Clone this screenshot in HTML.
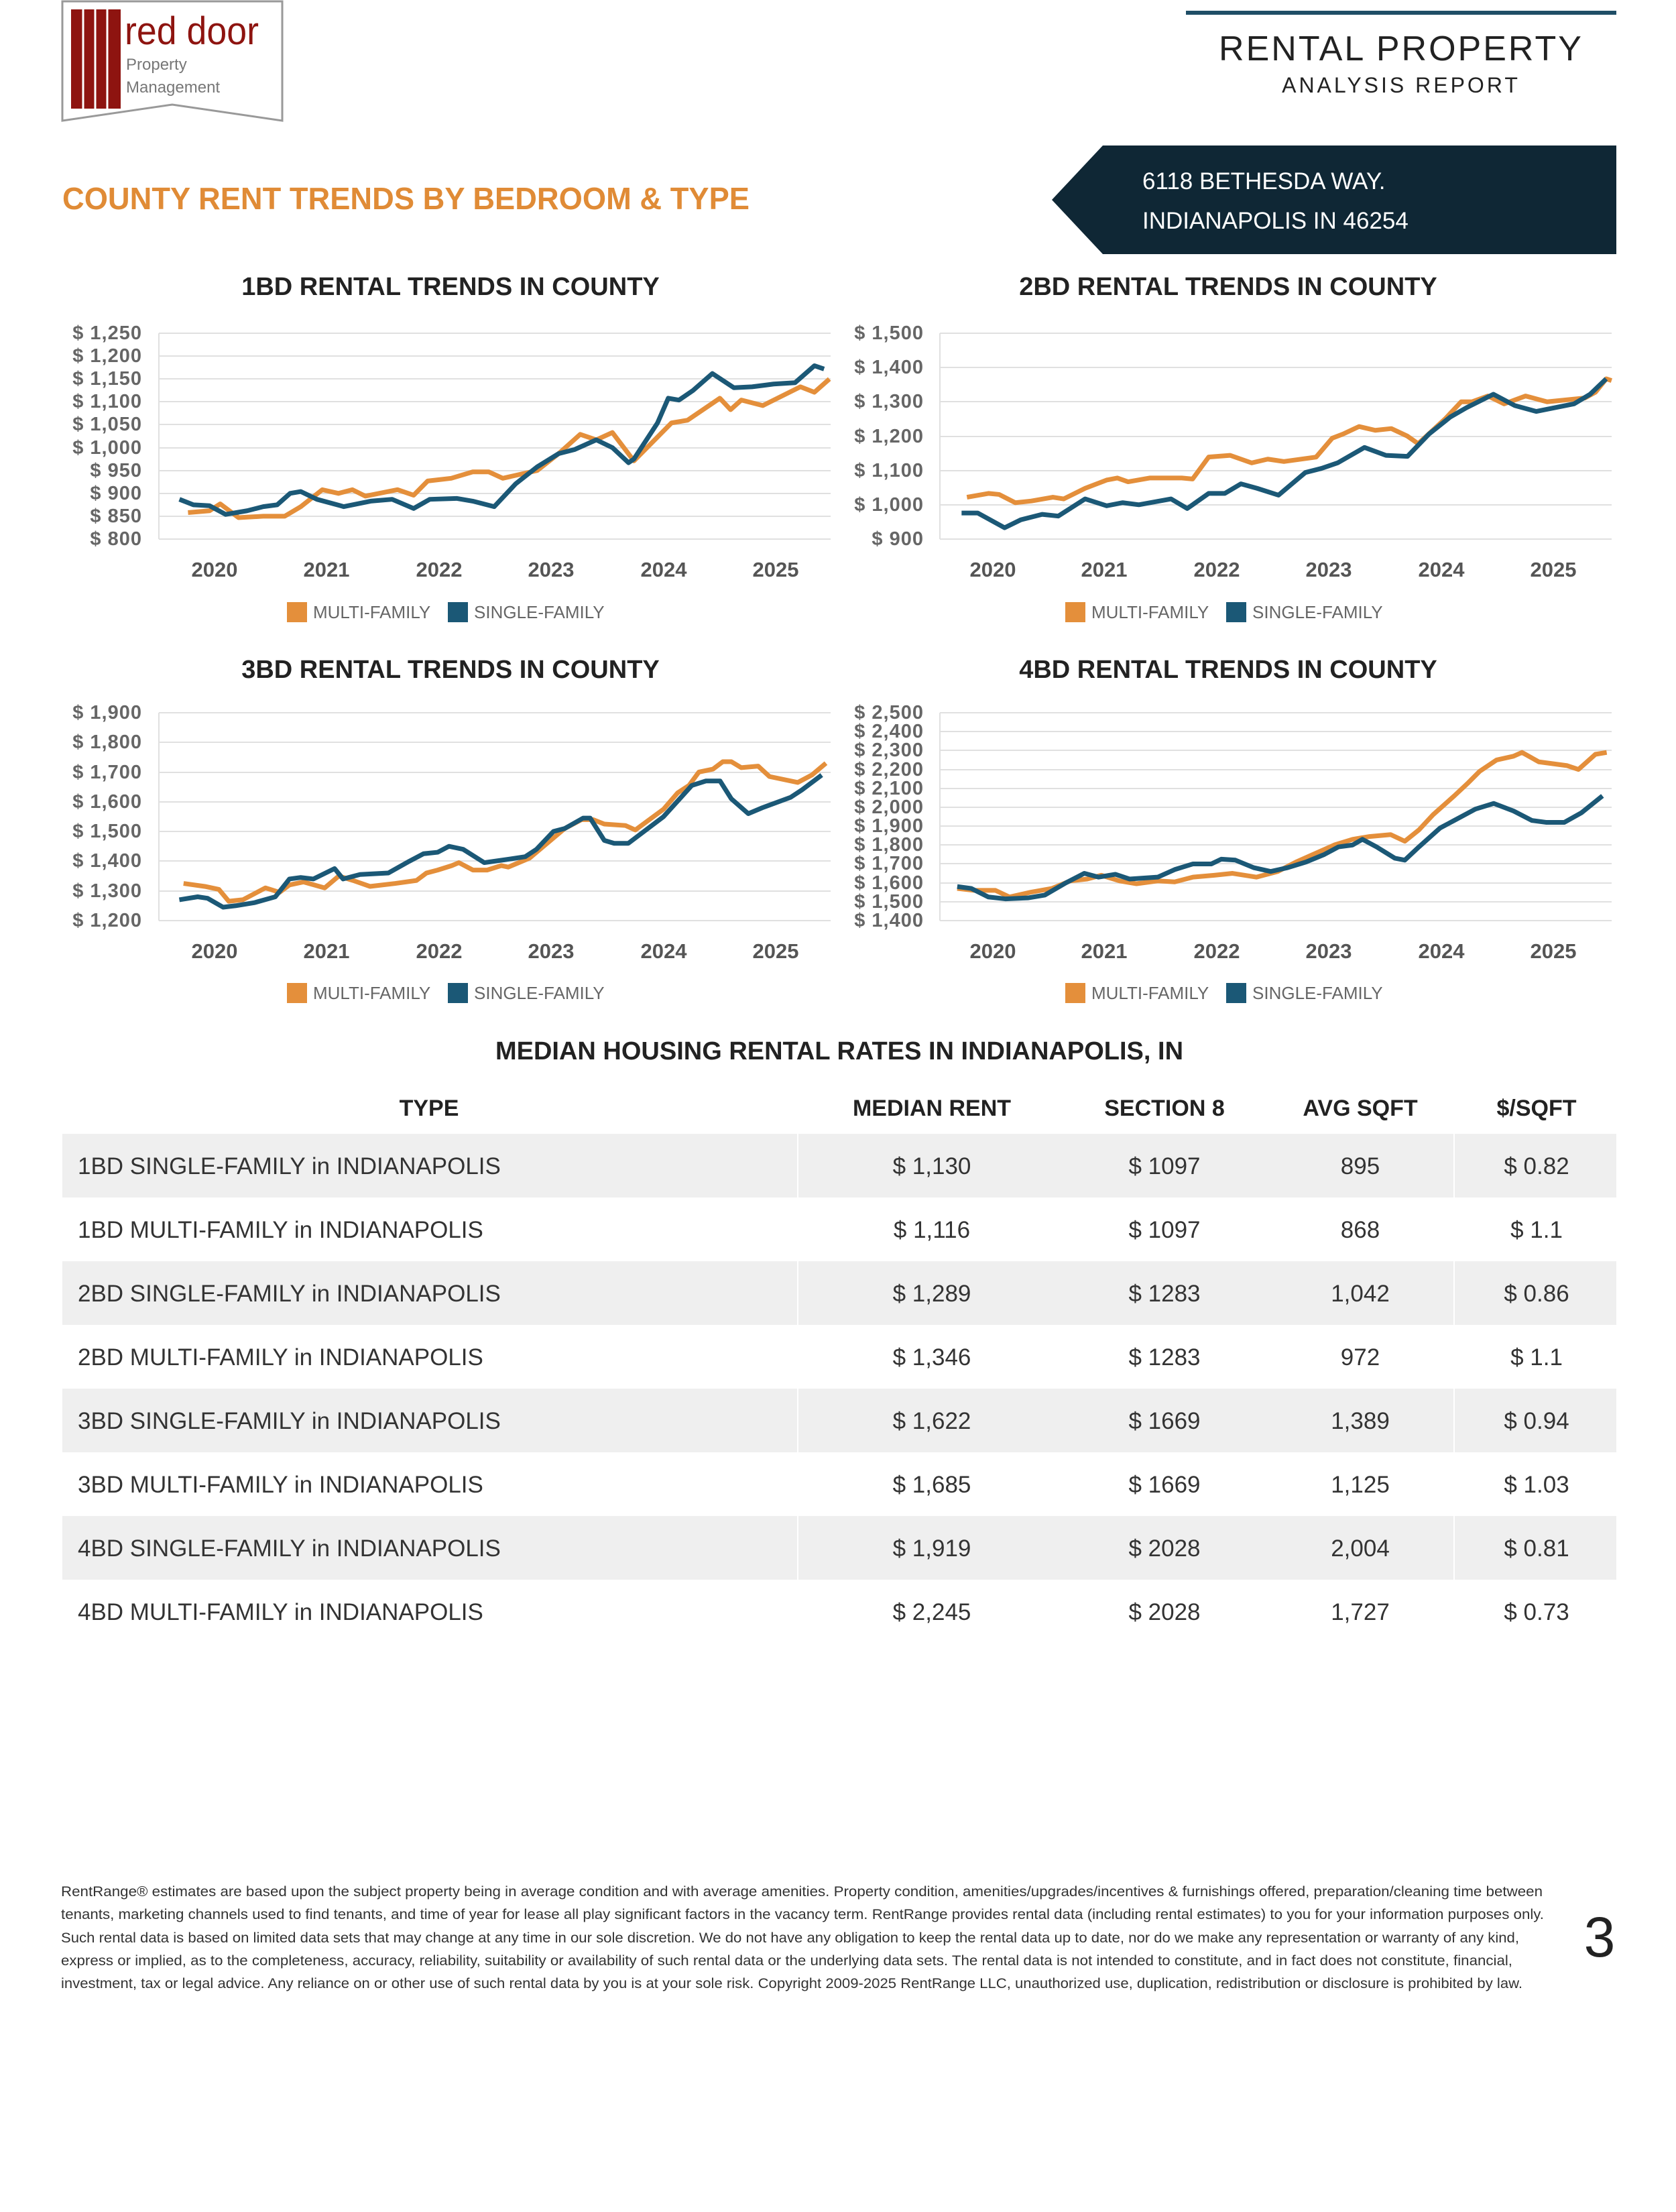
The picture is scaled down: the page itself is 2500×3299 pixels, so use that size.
<!DOCTYPE html>
<html><head><meta charset="utf-8"><style>
html,body{margin:0;padding:0;background:#fff;}
svg{display:block;}
text{font-family:"Liberation Sans",sans-serif;}
.tk{font-size:29px;font-weight:bold;fill:#666;letter-spacing:1px;}
.yr{font-size:31px;font-weight:bold;fill:#555;text-anchor:middle;}
.ct{font-size:38px;font-weight:bold;fill:#222;text-anchor:middle;}
.lg{font-size:26px;fill:#666;}
.g{stroke:#e0e0e0;stroke-width:2;}
.o{fill:none;stroke:#E48F3B;stroke-width:7;stroke-linejoin:round;vector-effect:non-scaling-stroke;}
.b{fill:none;stroke:#1B5876;stroke-width:7;stroke-linejoin:round;vector-effect:non-scaling-stroke;}
.th{font-size:34px;font-weight:bold;fill:#222;text-anchor:middle;}
.td{font-size:35px;fill:#333;}
.tc{font-size:35px;fill:#333;text-anchor:middle;}
.ft{font-size:21px;fill:#333;}
</style></head><body>
<svg width="2500" height="3299" viewBox="0 0 2500 3299" xmlns="http://www.w3.org/2000/svg">
<path d="M93,2 L421,2 L421,180 L257,156 L93,180 Z" fill="#fff" stroke="#999" stroke-width="3"/>
<rect x="106" y="14" width="74" height="148" fill="#8E1410"/>
<line x1="124" y1="14" x2="124" y2="162" stroke="#fff" stroke-width="3"/>
<line x1="142" y1="14" x2="142" y2="162" stroke="#fff" stroke-width="3"/>
<line x1="160" y1="14" x2="160" y2="162" stroke="#fff" stroke-width="3"/>
<text x="186" y="66" font-size="58" fill="#8E1410" textLength="200" lengthAdjust="spacingAndGlyphs">red door</text>
<text x="188" y="104" font-size="24" fill="#777">Property</text>
<text x="188" y="138" font-size="24" fill="#777">Management</text>
<rect x="1769" y="16" width="642" height="6" fill="#1F4E66"/>
<text x="2090" y="90" font-size="52" fill="#222" text-anchor="middle" letter-spacing="3">RENTAL PROPERTY</text>
<text x="2090" y="138" font-size="32" fill="#222" text-anchor="middle" letter-spacing="4">ANALYSIS REPORT</text>
<path d="M1645,217 L2411,217 L2411,379 L1645,379 L1569,298 Z" fill="#0F2735"/>
<text x="1704" y="282" font-size="35" fill="#fff">6118 BETHESDA WAY.</text>
<text x="1704" y="341" font-size="35" fill="#fff">INDIANAPOLIS IN 46254</text>
<text x="93" y="312" font-size="46" fill="#E08B36" font-weight="bold" textLength="1025" lengthAdjust="spacingAndGlyphs">COUNTY RENT TRENDS BY BEDROOM &amp; TYPE</text>

<text class="ct" x="672" y="440">1BD RENTAL TRENDS IN COUNTY</text>
<text class="ct" x="1832" y="440">2BD RENTAL TRENDS IN COUNTY</text>
<text class="ct" x="672" y="1011">3BD RENTAL TRENDS IN COUNTY</text>
<text class="ct" x="1832" y="1011">4BD RENTAL TRENDS IN COUNTY</text>

<g class="g">
<line x1="237" x2="1239" y1="497" y2="497"/><line x1="237" x2="1239" y1="531" y2="531"/><line x1="237" x2="1239" y1="565" y2="565"/><line x1="237" x2="1239" y1="599" y2="599"/><line x1="237" x2="1239" y1="633" y2="633"/><line x1="237" x2="1239" y1="668" y2="668"/><line x1="237" x2="1239" y1="702" y2="702"/><line x1="237" x2="1239" y1="736" y2="736"/><line x1="237" x2="1239" y1="770" y2="770"/><line x1="237" x2="1239" y1="804" y2="804"/>
<line x1="237" x2="237" y1="497" y2="804"/>
</g>
<g class="tk" text-anchor="end">
<text x="212" y="506">$ 1,250</text><text x="212" y="540">$ 1,200</text><text x="212" y="574">$ 1,150</text><text x="212" y="608">$ 1,100</text><text x="212" y="642">$ 1,050</text><text x="212" y="677">$ 1,000</text><text x="212" y="711">$ 950</text><text x="212" y="745">$ 900</text><text x="212" y="779">$ 850</text><text x="212" y="813">$ 800</text>
</g>
<g class="yr"><text x="320" y="860">2020</text><text x="487" y="860">2021</text><text x="655" y="860">2022</text><text x="822" y="860">2023</text><text x="990" y="860">2024</text><text x="1157" y="860">2025</text></g>
<g transform="matrix(1.6026,0,0,-0.6822,0,1349.8)">
<polyline class="o" points="175,858 195,862 205,877 222,847 245,850 265,850 280,871 300,908 315,900 328,908 340,894 370,908 385,896 398,927 420,933 440,947 455,947 468,933 500,950 520,987 540,1029 555,1017 570,1033 590,971 625,1054 640,1060 670,1108 680,1083 690,1104 710,1092 745,1133 758,1121 772,1150"/>
<polyline class="b" points="167,887 180,875 195,873 210,854 230,862 245,871 258,875 270,900 280,904 295,887 320,871 345,883 365,887 385,867 400,887 425,889 440,883 460,871 480,921 500,958 520,987 535,996 555,1017 570,1000 585,967 590,975 612,1054 622,1108 632,1104 645,1125 663,1162 683,1131 700,1133 720,1139 740,1142 758,1179 767,1172"/>
</g>
<rect x="428" y="898" width="30" height="30" fill="#E48F3B"/><text class="lg" x="467" y="922">MULTI-FAMILY</text>
<rect x="668" y="898" width="30" height="30" fill="#1B5876"/><text class="lg" x="707" y="922">SINGLE-FAMILY</text>

<g class="g">
<line x1="1402" x2="2404" y1="497" y2="497"/><line x1="1402" x2="2404" y1="548" y2="548"/><line x1="1402" x2="2404" y1="599" y2="599"/><line x1="1402" x2="2404" y1="651" y2="651"/><line x1="1402" x2="2404" y1="702" y2="702"/><line x1="1402" x2="2404" y1="753" y2="753"/><line x1="1402" x2="2404" y1="804" y2="804"/>
<line x1="1402" x2="1402" y1="497" y2="804"/>
</g>
<g class="tk" text-anchor="end">
<text x="1378" y="506">$ 1,500</text><text x="1378" y="557">$ 1,400</text><text x="1378" y="608">$ 1,300</text><text x="1378" y="660">$ 1,200</text><text x="1378" y="711">$ 1,100</text><text x="1378" y="762">$ 1,000</text><text x="1378" y="813">$ 900</text>
</g>
<g class="yr"><text x="1481" y="860">2020</text><text x="1647" y="860">2021</text><text x="1815" y="860">2022</text><text x="1982" y="860">2023</text><text x="2150" y="860">2024</text><text x="2317" y="860">2025</text></g>
<g transform="matrix(1.6026,0,0,-0.5117,0,1264.5)">
<polyline class="o" points="900,1022 920,1033 930,1030 945,1006 960,1011 980,1022 990,1017 1010,1048 1030,1072 1040,1078 1050,1067 1070,1078 1100,1078 1110,1075 1125,1139 1145,1144 1165,1122 1180,1133 1195,1126 1225,1139 1240,1194 1250,1206 1265,1228 1280,1217 1295,1222 1310,1200 1320,1178 1345,1250 1360,1300 1370,1300 1385,1317 1400,1294 1420,1317 1440,1300 1475,1311 1485,1328 1495,1367 1500,1362"/>
<polyline class="b" points="895,976 910,976 935,933 950,956 970,972 985,967 1010,1017 1030,997 1045,1006 1060,1000 1090,1017 1105,989 1125,1033 1140,1033 1155,1061 1170,1048 1190,1028 1215,1094 1230,1106 1245,1122 1270,1167 1290,1144 1310,1141 1330,1206 1350,1256 1365,1283 1390,1322 1410,1289 1430,1272 1465,1294 1480,1322 1495,1367"/>
</g>
<rect x="1589" y="898" width="30" height="30" fill="#E48F3B"/><text class="lg" x="1628" y="922">MULTI-FAMILY</text>
<rect x="1829" y="898" width="30" height="30" fill="#1B5876"/><text class="lg" x="1868" y="922">SINGLE-FAMILY</text>

<g class="g">
<line x1="237" x2="1239" y1="1063" y2="1063"/><line x1="237" x2="1239" y1="1107" y2="1107"/><line x1="237" x2="1239" y1="1152" y2="1152"/><line x1="237" x2="1239" y1="1196" y2="1196"/><line x1="237" x2="1239" y1="1240" y2="1240"/><line x1="237" x2="1239" y1="1284" y2="1284"/><line x1="237" x2="1239" y1="1329" y2="1329"/><line x1="237" x2="1239" y1="1373" y2="1373"/>
<line x1="237" x2="237" y1="1063" y2="1373"/>
</g>
<g class="tk" text-anchor="end">
<text x="212" y="1072">$ 1,900</text><text x="212" y="1116">$ 1,800</text><text x="212" y="1161">$ 1,700</text><text x="212" y="1205">$ 1,600</text><text x="212" y="1249">$ 1,500</text><text x="212" y="1293">$ 1,400</text><text x="212" y="1338">$ 1,300</text><text x="212" y="1382">$ 1,200</text>
</g>
<g class="yr"><text x="320" y="1429">2020</text><text x="487" y="1429">2021</text><text x="655" y="1429">2022</text><text x="822" y="1429">2023</text><text x="990" y="1429">2024</text><text x="1157" y="1429">2025</text></g>
<g transform="matrix(2.106,0,0,-0.4429,0,1904.4)">
<polyline class="o" points="130,1325 145,1315 155,1305 162,1265 172,1270 188,1310 198,1295 205,1320 215,1330 230,1310 240,1350 250,1335 262,1315 280,1325 295,1335 302,1360 310,1370 320,1385 325,1395 335,1370 345,1370 355,1385 360,1380 375,1410 390,1470 400,1510 412,1540 420,1540 428,1525 443,1520 450,1505 470,1575 480,1630 488,1655 495,1700 505,1710 512,1735 518,1735 525,1715 537,1720 545,1685 565,1665 575,1690 585,1730"/>
<polyline class="b" points="127,1270 140,1280 147,1275 158,1245 167,1250 180,1260 195,1280 205,1340 213,1345 222,1340 237,1375 243,1340 255,1355 275,1360 290,1400 300,1425 310,1430 318,1450 328,1440 343,1395 358,1405 372,1415 380,1440 392,1500 400,1510 413,1545 418,1545 428,1470 435,1460 445,1460 470,1550 490,1655 500,1670 510,1670 518,1610 530,1560 540,1580 560,1615 568,1640 582,1690"/>
</g>
<rect x="428" y="1466" width="30" height="30" fill="#E48F3B"/><text class="lg" x="467" y="1490">MULTI-FAMILY</text>
<rect x="668" y="1466" width="30" height="30" fill="#1B5876"/><text class="lg" x="707" y="1490">SINGLE-FAMILY</text>

<g class="g">
<line x1="1402" x2="2404" y1="1063" y2="1063"/><line x1="1402" x2="2404" y1="1091" y2="1091"/><line x1="1402" x2="2404" y1="1119" y2="1119"/><line x1="1402" x2="2404" y1="1148" y2="1148"/><line x1="1402" x2="2404" y1="1176" y2="1176"/><line x1="1402" x2="2404" y1="1204" y2="1204"/><line x1="1402" x2="2404" y1="1232" y2="1232"/><line x1="1402" x2="2404" y1="1260" y2="1260"/><line x1="1402" x2="2404" y1="1288" y2="1288"/><line x1="1402" x2="2404" y1="1317" y2="1317"/><line x1="1402" x2="2404" y1="1345" y2="1345"/><line x1="1402" x2="2404" y1="1373" y2="1373"/>
<line x1="1402" x2="1402" y1="1063" y2="1373"/>
</g>
<g class="tk" text-anchor="end">
<text x="1378" y="1072">$ 2,500</text><text x="1378" y="1100">$ 2,400</text><text x="1378" y="1128">$ 2,300</text><text x="1378" y="1157">$ 2,200</text><text x="1378" y="1185">$ 2,100</text><text x="1378" y="1213">$ 2,000</text><text x="1378" y="1241">$ 1,900</text><text x="1378" y="1269">$ 1,800</text><text x="1378" y="1297">$ 1,700</text><text x="1378" y="1326">$ 1,600</text><text x="1378" y="1354">$ 1,500</text><text x="1378" y="1382">$ 1,400</text>
</g>
<g class="yr"><text x="1481" y="1429">2020</text><text x="1647" y="1429">2021</text><text x="1815" y="1429">2022</text><text x="1982" y="1429">2023</text><text x="2150" y="1429">2024</text><text x="2317" y="1429">2025</text></g>
<g transform="matrix(2.106,0,0,-0.2818,0,1767.5)">
<polyline class="o" points="678,1570 690,1560 705,1560 715,1525 730,1550 745,1570 758,1610 770,1620 780,1640 793,1610 805,1595 820,1610 832,1605 845,1630 860,1640 873,1650 890,1630 905,1660 918,1710 930,1750 945,1800 958,1830 970,1845 985,1855 995,1820 1005,1880 1015,1960 1030,2060 1040,2130 1048,2190 1060,2250 1072,2270 1078,2290 1090,2240 1110,2220 1118,2200 1130,2280 1138,2290"/>
<polyline class="b" points="678,1580 688,1570 700,1525 712,1515 728,1520 740,1535 755,1600 768,1650 778,1630 790,1645 800,1620 820,1630 832,1670 845,1700 858,1700 865,1725 875,1720 888,1680 900,1660 912,1680 925,1710 938,1750 948,1790 958,1800 965,1830 975,1790 988,1730 995,1720 1005,1790 1020,1890 1030,1930 1045,1990 1058,2020 1072,1980 1085,1930 1095,1920 1108,1920 1120,1970 1130,2030 1135,2060"/>
</g>
<rect x="1589" y="1466" width="30" height="30" fill="#E48F3B"/><text class="lg" x="1628" y="1490">MULTI-FAMILY</text>
<rect x="1829" y="1466" width="30" height="30" fill="#1B5876"/><text class="lg" x="1868" y="1490">SINGLE-FAMILY</text>

<text class="ct" x="1252" y="1580">MEDIAN HOUSING RENTAL RATES IN INDIANAPOLIS, IN</text>
<g class="th"><text x="640" y="1664">TYPE</text><text x="1390" y="1664">MEDIAN RENT</text><text x="1737" y="1664">SECTION 8</text><text x="2029" y="1664">AVG SQFT</text><text x="2292" y="1664">$/SQFT</text></g>
<rect x="93" y="1691" width="2318" height="95" fill="#efefef"/>
<rect x="93" y="1881" width="2318" height="95" fill="#efefef"/>
<rect x="93" y="2071" width="2318" height="95" fill="#efefef"/>
<rect x="93" y="2261" width="2318" height="95" fill="#efefef"/>
<g stroke="#fff" stroke-width="2"><line x1="1190" x2="1190" y1="1691" y2="2356"/><line x1="2169" x2="2169" y1="1691" y2="2356"/></g>
<g class="td">
<text x="116" y="1751">1BD SINGLE-FAMILY in INDIANAPOLIS</text>
<text x="116" y="1846">1BD MULTI-FAMILY in INDIANAPOLIS</text>
<text x="116" y="1941">2BD SINGLE-FAMILY in INDIANAPOLIS</text>
<text x="116" y="2036">2BD MULTI-FAMILY in INDIANAPOLIS</text>
<text x="116" y="2131">3BD SINGLE-FAMILY in INDIANAPOLIS</text>
<text x="116" y="2226">3BD MULTI-FAMILY in INDIANAPOLIS</text>
<text x="116" y="2321">4BD SINGLE-FAMILY in INDIANAPOLIS</text>
<text x="116" y="2416">4BD MULTI-FAMILY in INDIANAPOLIS</text>
</g>
<g class="tc">
<text x="1390" y="1751">$ 1,130</text><text x="1737" y="1751">$ 1097</text><text x="2029" y="1751">895</text><text x="2292" y="1751">$ 0.82</text>
<text x="1390" y="1846">$ 1,116</text><text x="1737" y="1846">$ 1097</text><text x="2029" y="1846">868</text><text x="2292" y="1846">$ 1.1</text>
<text x="1390" y="1941">$ 1,289</text><text x="1737" y="1941">$ 1283</text><text x="2029" y="1941">1,042</text><text x="2292" y="1941">$ 0.86</text>
<text x="1390" y="2036">$ 1,346</text><text x="1737" y="2036">$ 1283</text><text x="2029" y="2036">972</text><text x="2292" y="2036">$ 1.1</text>
<text x="1390" y="2131">$ 1,622</text><text x="1737" y="2131">$ 1669</text><text x="2029" y="2131">1,389</text><text x="2292" y="2131">$ 0.94</text>
<text x="1390" y="2226">$ 1,685</text><text x="1737" y="2226">$ 1669</text><text x="2029" y="2226">1,125</text><text x="2292" y="2226">$ 1.03</text>
<text x="1390" y="2321">$ 1,919</text><text x="1737" y="2321">$ 2028</text><text x="2029" y="2321">2,004</text><text x="2292" y="2321">$ 0.81</text>
<text x="1390" y="2416">$ 2,245</text><text x="1737" y="2416">$ 2028</text><text x="2029" y="2416">1,727</text><text x="2292" y="2416">$ 0.73</text>
</g>

<g class="ft">
<text x="91" y="2828" textLength="2210" lengthAdjust="spacingAndGlyphs">RentRange® estimates are based upon the subject property being in average condition and with average amenities. Property condition, amenities/upgrades/incentives &amp; furnishings offered, preparation/cleaning time between</text>
<text x="91" y="2862" textLength="2212" lengthAdjust="spacingAndGlyphs">tenants, marketing channels used to find tenants, and time of year for lease all play significant factors in the vacancy term. RentRange provides rental data (including rental estimates) to you for your information purposes only.</text>
<text x="91" y="2897" textLength="2175" lengthAdjust="spacingAndGlyphs">Such rental data is based on limited data sets that may change at any time in our sole discretion. We do not have any obligation to keep the rental data up to date, nor do we make any representation or warranty of any kind,</text>
<text x="91" y="2931" textLength="2165" lengthAdjust="spacingAndGlyphs">express or implied, as to the completeness, accuracy, reliability, suitability or availability of such rental data or the underlying data sets. The rental data is not intended to constitute, and in fact does not constitute, financial,</text>
<text x="91" y="2965" textLength="2180" lengthAdjust="spacingAndGlyphs">investment, tax or legal advice. Any reliance on or other use of such rental data by you is at your sole risk. Copyright 2009-2025 RentRange LLC, unauthorized use, duplication, redistribution or disclosure is prohibited by law.</text>
</g>
<text x="2386" y="2918" font-size="84" fill="#222" text-anchor="middle">3</text>
</svg>
</body></html>
